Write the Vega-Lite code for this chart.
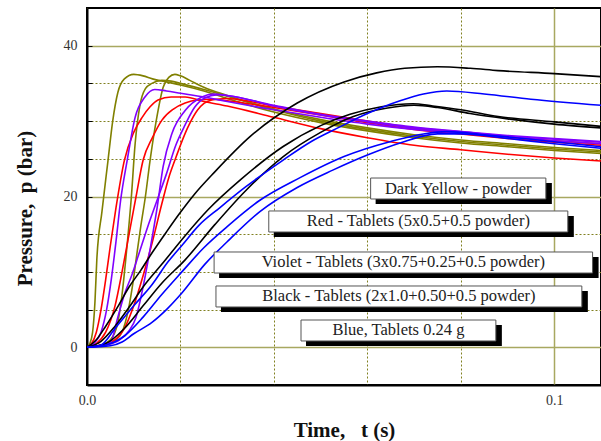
{
"$schema":"https://vega.github.io/schema/vega-lite/v6.json",
"width":514,"height":377,
"autosize":{"type":"none"},
"padding":{"left":87,"top":8,"right":0,"bottom":56},
"background":"white",
"config":{"view":{"stroke":"black","strokeWidth":2},"font":"Liberation Serif"},
"datasets":{
"curves":[
{"run":"Y1","set":"Dark Yellow","t":0,"p":0},{"run":"Y1","set":"Dark Yellow","t":0.0006,"p":0.5},{"run":"Y1","set":"Dark Yellow","t":0.0012,"p":2},{"run":"Y1","set":"Dark Yellow","t":0.0017,"p":6},{"run":"Y1","set":"Dark Yellow","t":0.0021,"p":11.6},{"run":"Y1","set":"Dark Yellow","t":0.0032,"p":18},{"run":"Y1","set":"Dark Yellow","t":0.0045,"p":24.8},{"run":"Y1","set":"Dark Yellow","t":0.0055,"p":30},{"run":"Y1","set":"Dark Yellow","t":0.0066,"p":33.8},{"run":"Y1","set":"Dark Yellow","t":0.008,"p":35.6},{"run":"Y1","set":"Dark Yellow","t":0.010,"p":36.2},{"run":"Y1","set":"Dark Yellow","t":0.012,"p":36},{"run":"Y1","set":"Dark Yellow","t":0.014,"p":35.6},{"run":"Y1","set":"Dark Yellow","t":0.017,"p":35.2},{"run":"Y1","set":"Dark Yellow","t":0.020,"p":34.8},{"run":"Y1","set":"Dark Yellow","t":0.025,"p":34},{"run":"Y1","set":"Dark Yellow","t":0.030,"p":33},{"run":"Y1","set":"Dark Yellow","t":0.040,"p":31.2},{"run":"Y1","set":"Dark Yellow","t":0.050,"p":29.8},{"run":"Y1","set":"Dark Yellow","t":0.060,"p":28.7},{"run":"Y1","set":"Dark Yellow","t":0.070,"p":27.8},{"run":"Y1","set":"Dark Yellow","t":0.080,"p":27.1},{"run":"Y1","set":"Dark Yellow","t":0.090,"p":26.6},{"run":"Y1","set":"Dark Yellow","t":0.100,"p":26.1},{"run":"Y1","set":"Dark Yellow","t":0.110,"p":25.7},
{"run":"Y2","set":"Dark Yellow","t":0,"p":0},{"run":"Y2","set":"Dark Yellow","t":0.003,"p":0.3},{"run":"Y2","set":"Dark Yellow","t":0.005,"p":1},{"run":"Y2","set":"Dark Yellow","t":0.0065,"p":3},{"run":"Y2","set":"Dark Yellow","t":0.0075,"p":7},{"run":"Y2","set":"Dark Yellow","t":0.0085,"p":13},{"run":"Y2","set":"Dark Yellow","t":0.0095,"p":20},{"run":"Y2","set":"Dark Yellow","t":0.0103,"p":27},{"run":"Y2","set":"Dark Yellow","t":0.0113,"p":32},{"run":"Y2","set":"Dark Yellow","t":0.0125,"p":34.3},{"run":"Y2","set":"Dark Yellow","t":0.0139,"p":35},{"run":"Y2","set":"Dark Yellow","t":0.016,"p":35.4},{"run":"Y2","set":"Dark Yellow","t":0.018,"p":35.3},{"run":"Y2","set":"Dark Yellow","t":0.020,"p":35},{"run":"Y2","set":"Dark Yellow","t":0.025,"p":34.2},{"run":"Y2","set":"Dark Yellow","t":0.030,"p":33.3},{"run":"Y2","set":"Dark Yellow","t":0.040,"p":31.5},{"run":"Y2","set":"Dark Yellow","t":0.050,"p":30},{"run":"Y2","set":"Dark Yellow","t":0.060,"p":28.9},{"run":"Y2","set":"Dark Yellow","t":0.070,"p":28},{"run":"Y2","set":"Dark Yellow","t":0.080,"p":27.3},{"run":"Y2","set":"Dark Yellow","t":0.090,"p":26.8},{"run":"Y2","set":"Dark Yellow","t":0.100,"p":26.3},{"run":"Y2","set":"Dark Yellow","t":0.110,"p":25.9},
{"run":"Y3","set":"Dark Yellow","t":0,"p":0},{"run":"Y3","set":"Dark Yellow","t":0.004,"p":0.3},{"run":"Y3","set":"Dark Yellow","t":0.007,"p":1.5},{"run":"Y3","set":"Dark Yellow","t":0.0085,"p":4},{"run":"Y3","set":"Dark Yellow","t":0.0097,"p":8},{"run":"Y3","set":"Dark Yellow","t":0.0105,"p":11.6},{"run":"Y3","set":"Dark Yellow","t":0.0115,"p":16},{"run":"Y3","set":"Dark Yellow","t":0.0125,"p":20},{"run":"Y3","set":"Dark Yellow","t":0.0135,"p":24.8},{"run":"Y3","set":"Dark Yellow","t":0.0148,"p":30},{"run":"Y3","set":"Dark Yellow","t":0.0163,"p":34.5},{"run":"Y3","set":"Dark Yellow","t":0.0175,"p":35.8},{"run":"Y3","set":"Dark Yellow","t":0.0188,"p":36.2},{"run":"Y3","set":"Dark Yellow","t":0.020,"p":36},{"run":"Y3","set":"Dark Yellow","t":0.022,"p":35.4},{"run":"Y3","set":"Dark Yellow","t":0.025,"p":34.5},{"run":"Y3","set":"Dark Yellow","t":0.030,"p":33.4},{"run":"Y3","set":"Dark Yellow","t":0.040,"p":31.6},{"run":"Y3","set":"Dark Yellow","t":0.050,"p":30.2},{"run":"Y3","set":"Dark Yellow","t":0.060,"p":29.1},{"run":"Y3","set":"Dark Yellow","t":0.070,"p":28.2},{"run":"Y3","set":"Dark Yellow","t":0.080,"p":27.5},{"run":"Y3","set":"Dark Yellow","t":0.090,"p":27},{"run":"Y3","set":"Dark Yellow","t":0.100,"p":26.5},{"run":"Y3","set":"Dark Yellow","t":0.110,"p":26.1},
{"run":"R1","set":"Red","t":0,"p":0},{"run":"R1","set":"Red","t":0.001,"p":0.5},{"run":"R1","set":"Red","t":0.002,"p":2},{"run":"R1","set":"Red","t":0.003,"p":5},{"run":"R1","set":"Red","t":0.004,"p":9},{"run":"R1","set":"Red","t":0.005,"p":13.5},{"run":"R1","set":"Red","t":0.0062,"p":18.5},{"run":"R1","set":"Red","t":0.008,"p":24.8},{"run":"R1","set":"Red","t":0.010,"p":28.5},{"run":"R1","set":"Red","t":0.0118,"p":30.5},{"run":"R1","set":"Red","t":0.0135,"p":31.9},{"run":"R1","set":"Red","t":0.0152,"p":32.8},{"run":"R1","set":"Red","t":0.018,"p":33.2},{"run":"R1","set":"Red","t":0.021,"p":33.2},{"run":"R1","set":"Red","t":0.025,"p":32.6},{"run":"R1","set":"Red","t":0.030,"p":32},{"run":"R1","set":"Red","t":0.040,"p":30.5},{"run":"R1","set":"Red","t":0.050,"p":29},{"run":"R1","set":"Red","t":0.060,"p":27.8},{"run":"R1","set":"Red","t":0.070,"p":26.8},{"run":"R1","set":"Red","t":0.080,"p":26.2},{"run":"R1","set":"Red","t":0.090,"p":25.6},{"run":"R1","set":"Red","t":0.100,"p":25.1},{"run":"R1","set":"Red","t":0.110,"p":24.7},
{"run":"R2","set":"Red","t":0,"p":0},{"run":"R2","set":"Red","t":0.002,"p":0.5},{"run":"R2","set":"Red","t":0.004,"p":2},{"run":"R2","set":"Red","t":0.006,"p":5.5},{"run":"R2","set":"Red","t":0.0075,"p":10},{"run":"R2","set":"Red","t":0.009,"p":15},{"run":"R2","set":"Red","t":0.0105,"p":20},{"run":"R2","set":"Red","t":0.012,"p":24.8},{"run":"R2","set":"Red","t":0.014,"p":27.8},{"run":"R2","set":"Red","t":0.016,"p":30.1},{"run":"R2","set":"Red","t":0.0185,"p":31.6},{"run":"R2","set":"Red","t":0.021,"p":32.4},{"run":"R2","set":"Red","t":0.0237,"p":32.8},{"run":"R2","set":"Red","t":0.027,"p":32.9},{"run":"R2","set":"Red","t":0.030,"p":32.7},{"run":"R2","set":"Red","t":0.040,"p":31.8},{"run":"R2","set":"Red","t":0.050,"p":30.8},{"run":"R2","set":"Red","t":0.060,"p":29.8},{"run":"R2","set":"Red","t":0.070,"p":28.9},{"run":"R2","set":"Red","t":0.080,"p":28.3},{"run":"R2","set":"Red","t":0.090,"p":27.7},{"run":"R2","set":"Red","t":0.100,"p":27.2},{"run":"R2","set":"Red","t":0.110,"p":26.8},
{"run":"R3","set":"Red","t":0,"p":0},{"run":"R3","set":"Red","t":0.003,"p":0.3},{"run":"R3","set":"Red","t":0.006,"p":1},{"run":"R3","set":"Red","t":0.008,"p":2.5},{"run":"R3","set":"Red","t":0.010,"p":5.5},{"run":"R3","set":"Red","t":0.012,"p":9.5},{"run":"R3","set":"Red","t":0.014,"p":14},{"run":"R3","set":"Red","t":0.016,"p":19},{"run":"R3","set":"Red","t":0.0175,"p":22.5},{"run":"R3","set":"Red","t":0.0188,"p":24.8},{"run":"R3","set":"Red","t":0.0216,"p":29.2},{"run":"R3","set":"Red","t":0.0237,"p":31.5},{"run":"R3","set":"Red","t":0.0267,"p":32.8},{"run":"R3","set":"Red","t":0.030,"p":33},{"run":"R3","set":"Red","t":0.035,"p":32.6},{"run":"R3","set":"Red","t":0.040,"p":32},{"run":"R3","set":"Red","t":0.050,"p":31},{"run":"R3","set":"Red","t":0.060,"p":30},{"run":"R3","set":"Red","t":0.070,"p":29.1},{"run":"R3","set":"Red","t":0.080,"p":28.5},{"run":"R3","set":"Red","t":0.090,"p":27.9},{"run":"R3","set":"Red","t":0.100,"p":27.4},{"run":"R3","set":"Red","t":0.110,"p":27},
{"run":"V1","set":"Violet","t":0,"p":0},{"run":"V1","set":"Violet","t":0.0015,"p":0.5},{"run":"V1","set":"Violet","t":0.003,"p":2},{"run":"V1","set":"Violet","t":0.0042,"p":5},{"run":"V1","set":"Violet","t":0.0052,"p":9},{"run":"V1","set":"Violet","t":0.0062,"p":14},{"run":"V1","set":"Violet","t":0.0072,"p":19.5},{"run":"V1","set":"Violet","t":0.0086,"p":24.8},{"run":"V1","set":"Violet","t":0.0103,"p":30.5},{"run":"V1","set":"Violet","t":0.0124,"p":33.2},{"run":"V1","set":"Violet","t":0.0145,"p":34.2},{"run":"V1","set":"Violet","t":0.017,"p":34},{"run":"V1","set":"Violet","t":0.020,"p":33.7},{"run":"V1","set":"Violet","t":0.025,"p":33.2},{"run":"V1","set":"Violet","t":0.030,"p":32.6},{"run":"V1","set":"Violet","t":0.040,"p":31.5},{"run":"V1","set":"Violet","t":0.050,"p":30.5},{"run":"V1","set":"Violet","t":0.060,"p":29.6},{"run":"V1","set":"Violet","t":0.070,"p":28.9},{"run":"V1","set":"Violet","t":0.080,"p":28.4},{"run":"V1","set":"Violet","t":0.090,"p":27.9},{"run":"V1","set":"Violet","t":0.100,"p":27.4},{"run":"V1","set":"Violet","t":0.110,"p":27},
{"run":"V2","set":"Violet","t":0,"p":0},{"run":"V2","set":"Violet","t":0.003,"p":0.2},{"run":"V2","set":"Violet","t":0.005,"p":0.6},{"run":"V2","set":"Violet","t":0.0066,"p":4},{"run":"V2","set":"Violet","t":0.008,"p":7},{"run":"V2","set":"Violet","t":0.0096,"p":9.6},{"run":"V2","set":"Violet","t":0.0109,"p":12},{"run":"V2","set":"Violet","t":0.013,"p":16},{"run":"V2","set":"Violet","t":0.015,"p":19.5},{"run":"V2","set":"Violet","t":0.017,"p":23},{"run":"V2","set":"Violet","t":0.019,"p":26.8},{"run":"V2","set":"Violet","t":0.021,"p":29.5},{"run":"V2","set":"Violet","t":0.023,"p":31.8},{"run":"V2","set":"Violet","t":0.025,"p":33},{"run":"V2","set":"Violet","t":0.028,"p":33.5},{"run":"V2","set":"Violet","t":0.032,"p":33.2},{"run":"V2","set":"Violet","t":0.040,"p":32},{"run":"V2","set":"Violet","t":0.050,"p":30.8},{"run":"V2","set":"Violet","t":0.060,"p":29.9},{"run":"V2","set":"Violet","t":0.070,"p":29.1},{"run":"V2","set":"Violet","t":0.080,"p":28.6},{"run":"V2","set":"Violet","t":0.090,"p":28},{"run":"V2","set":"Violet","t":0.100,"p":27.6},{"run":"V2","set":"Violet","t":0.110,"p":27.2},
{"run":"V3","set":"Violet","t":0,"p":0},{"run":"V3","set":"Violet","t":0.004,"p":0.3},{"run":"V3","set":"Violet","t":0.007,"p":1},{"run":"V3","set":"Violet","t":0.009,"p":2.2},{"run":"V3","set":"Violet","t":0.0105,"p":4},{"run":"V3","set":"Violet","t":0.012,"p":8},{"run":"V3","set":"Violet","t":0.0135,"p":13},{"run":"V3","set":"Violet","t":0.015,"p":18.5},{"run":"V3","set":"Violet","t":0.0163,"p":24},{"run":"V3","set":"Violet","t":0.0182,"p":28.4},{"run":"V3","set":"Violet","t":0.021,"p":31.4},{"run":"V3","set":"Violet","t":0.0246,"p":33.2},{"run":"V3","set":"Violet","t":0.027,"p":33.6},{"run":"V3","set":"Violet","t":0.030,"p":33.4},{"run":"V3","set":"Violet","t":0.040,"p":32.1},{"run":"V3","set":"Violet","t":0.050,"p":30.9},{"run":"V3","set":"Violet","t":0.060,"p":30},{"run":"V3","set":"Violet","t":0.070,"p":29.2},{"run":"V3","set":"Violet","t":0.080,"p":28.6},{"run":"V3","set":"Violet","t":0.090,"p":28.1},{"run":"V3","set":"Violet","t":0.100,"p":27.7},{"run":"V3","set":"Violet","t":0.110,"p":27.3},
{"run":"K1","set":"Black","t":0,"p":0},{"run":"K1","set":"Black","t":0.002,"p":1},{"run":"K1","set":"Black","t":0.004,"p":2.8},{"run":"K1","set":"Black","t":0.0066,"p":5.4},{"run":"K1","set":"Black","t":0.009,"p":8},{"run":"K1","set":"Black","t":0.0115,"p":10.2},{"run":"K1","set":"Black","t":0.014,"p":12.6},{"run":"K1","set":"Black","t":0.017,"p":15.3},{"run":"K1","set":"Black","t":0.020,"p":17.9},{"run":"K1","set":"Black","t":0.023,"p":20.3},{"run":"K1","set":"Black","t":0.0274,"p":23.3},{"run":"K1","set":"Black","t":0.035,"p":28},{"run":"K1","set":"Black","t":0.045,"p":32.4},{"run":"K1","set":"Black","t":0.055,"p":35.2},{"run":"K1","set":"Black","t":0.062,"p":36.4},{"run":"K1","set":"Black","t":0.068,"p":37},{"run":"K1","set":"Black","t":0.075,"p":37.2},{"run":"K1","set":"Black","t":0.082,"p":37},{"run":"K1","set":"Black","t":0.088,"p":36.7},{"run":"K1","set":"Black","t":0.100,"p":36.3},{"run":"K1","set":"Black","t":0.110,"p":35.9},
{"run":"K2","set":"Black","t":0,"p":0},{"run":"K2","set":"Black","t":0.003,"p":0.8},{"run":"K2","set":"Black","t":0.006,"p":2.8},{"run":"K2","set":"Black","t":0.009,"p":5.3},{"run":"K2","set":"Black","t":0.012,"p":8},{"run":"K2","set":"Black","t":0.016,"p":11},{"run":"K2","set":"Black","t":0.021,"p":14.8},{"run":"K2","set":"Black","t":0.026,"p":18.3},{"run":"K2","set":"Black","t":0.033,"p":22.3},{"run":"K2","set":"Black","t":0.0419,"p":26.6},{"run":"K2","set":"Black","t":0.050,"p":29.4},{"run":"K2","set":"Black","t":0.0563,"p":30.9},{"run":"K2","set":"Black","t":0.063,"p":31.9},{"run":"K2","set":"Black","t":0.0697,"p":32.3},{"run":"K2","set":"Black","t":0.074,"p":32},{"run":"K2","set":"Black","t":0.080,"p":31.5},{"run":"K2","set":"Black","t":0.088,"p":30.6},{"run":"K2","set":"Black","t":0.100,"p":29.9},{"run":"K2","set":"Black","t":0.110,"p":29.3},
{"run":"K3","set":"Black","t":0,"p":0},{"run":"K3","set":"Black","t":0.004,"p":0.5},{"run":"K3","set":"Black","t":0.008,"p":2.5},{"run":"K3","set":"Black","t":0.012,"p":5.5},{"run":"K3","set":"Black","t":0.016,"p":8.5},{"run":"K3","set":"Black","t":0.021,"p":11.6},{"run":"K3","set":"Black","t":0.0274,"p":16.3},{"run":"K3","set":"Black","t":0.034,"p":20.8},{"run":"K3","set":"Black","t":0.042,"p":25.3},{"run":"K3","set":"Black","t":0.050,"p":28.5},{"run":"K3","set":"Black","t":0.057,"p":30.6},{"run":"K3","set":"Black","t":0.064,"p":31.7},{"run":"K3","set":"Black","t":0.070,"p":32.1},{"run":"K3","set":"Black","t":0.075,"p":31.8},{"run":"K3","set":"Black","t":0.082,"p":31},{"run":"K3","set":"Black","t":0.090,"p":30.3},{"run":"K3","set":"Black","t":0.100,"p":29.6},{"run":"K3","set":"Black","t":0.110,"p":29.1},
{"run":"B1","set":"Blue","t":0,"p":0},{"run":"B1","set":"Blue","t":0.003,"p":0.3},{"run":"B1","set":"Blue","t":0.006,"p":2.5},{"run":"B1","set":"Blue","t":0.010,"p":5.5},{"run":"B1","set":"Blue","t":0.0139,"p":8.3},{"run":"B1","set":"Blue","t":0.0173,"p":11.3},{"run":"B1","set":"Blue","t":0.0203,"p":13.5},{"run":"B1","set":"Blue","t":0.024,"p":16.2},{"run":"B1","set":"Blue","t":0.0284,"p":18.5},{"run":"B1","set":"Blue","t":0.034,"p":21.3},{"run":"B1","set":"Blue","t":0.0419,"p":24.8},{"run":"B1","set":"Blue","t":0.048,"p":27.3},{"run":"B1","set":"Blue","t":0.054,"p":29.2},{"run":"B1","set":"Blue","t":0.060,"p":31},{"run":"B1","set":"Blue","t":0.067,"p":32.7},{"run":"B1","set":"Blue","t":0.072,"p":33.6},{"run":"B1","set":"Blue","t":0.077,"p":34},{"run":"B1","set":"Blue","t":0.085,"p":33.6},{"run":"B1","set":"Blue","t":0.095,"p":32.9},{"run":"B1","set":"Blue","t":0.110,"p":32.1},
{"run":"B2","set":"Blue","t":0,"p":0},{"run":"B2","set":"Blue","t":0.004,"p":0.3},{"run":"B2","set":"Blue","t":0.008,"p":1.5},{"run":"B2","set":"Blue","t":0.012,"p":4},{"run":"B2","set":"Blue","t":0.016,"p":7},{"run":"B2","set":"Blue","t":0.0203,"p":10},{"run":"B2","set":"Blue","t":0.025,"p":13.2},{"run":"B2","set":"Blue","t":0.030,"p":16},{"run":"B2","set":"Blue","t":0.037,"p":19.5},{"run":"B2","set":"Blue","t":0.0456,"p":22.5},{"run":"B2","set":"Blue","t":0.055,"p":25.3},{"run":"B2","set":"Blue","t":0.065,"p":27.3},{"run":"B2","set":"Blue","t":0.072,"p":28.3},{"run":"B2","set":"Blue","t":0.077,"p":28.6},{"run":"B2","set":"Blue","t":0.085,"p":28.2},{"run":"B2","set":"Blue","t":0.095,"p":27.6},{"run":"B2","set":"Blue","t":0.110,"p":26.6},
{"run":"B3","set":"Blue","t":0,"p":0},{"run":"B3","set":"Blue","t":0.005,"p":0.2},{"run":"B3","set":"Blue","t":0.0075,"p":0.7},{"run":"B3","set":"Blue","t":0.010,"p":1.8},{"run":"B3","set":"Blue","t":0.0139,"p":3.3},{"run":"B3","set":"Blue","t":0.017,"p":5},{"run":"B3","set":"Blue","t":0.0203,"p":7.2},{"run":"B3","set":"Blue","t":0.0252,"p":11},{"run":"B3","set":"Blue","t":0.030,"p":14},{"run":"B3","set":"Blue","t":0.037,"p":18},{"run":"B3","set":"Blue","t":0.045,"p":21.2},{"run":"B3","set":"Blue","t":0.0526,"p":23.5},{"run":"B3","set":"Blue","t":0.060,"p":25.5},{"run":"B3","set":"Blue","t":0.067,"p":27.1},{"run":"B3","set":"Blue","t":0.075,"p":28.3},{"run":"B3","set":"Blue","t":0.080,"p":28.3},{"run":"B3","set":"Blue","t":0.090,"p":27.7},{"run":"B3","set":"Blue","t":0.100,"p":27},{"run":"B3","set":"Blue","t":0.110,"p":26.4}
],
"labels":[
{"label":"Dark Yellow - powder","x1":0.0607,"x2":0.0982,"y1":22.45,"y2":19.67,"xm":0.07945,"ym":21.06},
{"label":"Red - Tablets (5x0.5+0.5 powder)","x1":0.0389,"x2":0.1029,"y1":18.08,"y2":15.29,"xm":0.0709,"ym":16.69},
{"label":"Violet - Tablets (3x0.75+0.25+0.5 powder)","x1":0.0272,"x2":0.1082,"y1":12.64,"y2":9.85,"xm":0.0677,"ym":11.25},
{"label":"Black - Tablets (2x1.0+0.50+0.5 powder)","x1":0.0276,"x2":0.1059,"y1":8.13,"y2":5.35,"xm":0.06675,"ym":6.74},
{"label":"Blue, Tablets 0.24 g","x1":0.0458,"x2":0.0875,"y1":3.62,"y2":0.84,"xm":0.06665,"ym":2.23}
]
},
"layer":[
{"data":{"name":"curves"},
 "mark":{"type":"line","strokeWidth":1.6,"interpolate":"monotone","clip":true},
 "encoding":{
  "x":{"field":"t","type":"quantitative","scale":{"domain":[0,0.11],"nice":false,"zero":false},
   "axis":{"values":[0,0.02,0.04,0.06,0.08,0.1],"title":"Time,\u00a0\u00a0 t (s)","titleFont":"Liberation Serif","titleFontSize":21,"titleFontWeight":"bold","titleColor":"#111","titlePadding":12,
     "labelExpr":"datum.value == 0 ? '0.0' : (abs(datum.value - 0.1) < 1e-9 ? '0.1' : '')","labelFont":"Liberation Serif","labelFontSize":14,"labelColor":"#333","labelPadding":8,"labelFlush":false,
     "ticks":false,"domainColor":"black","domainWidth":2,
     "grid":true,"gridColor":{"condition":{"test":"abs(datum.value - 0.1) < 1e-9","value":"#a8a860"},"value":"#808020"},"gridDash":{"condition":{"test":"abs(datum.value - 0.1) < 1e-9","value":[]},"value":[2,2]},"gridWidth":{"condition":{"test":"abs(datum.value - 0.1) < 1e-9","value":1.5},"value":1}}},
  "y":{"field":"p","type":"quantitative","scale":{"domain":[-5,45],"nice":false,"zero":false},
   "axis":{"values":[0,5,10,15,20,25,30,35,40],"title":"Pressure,\u00a0 p (bar)","titleFont":"Liberation Serif","titleFontSize":21,"titleFontWeight":"bold","titleColor":"#111","titleX":-62,"titleY":200,"titleBaseline":"middle","titleAlign":"center","titleAngle":-90,
     "labelExpr":"datum.value % 20 == 0 ? datum.label : ''","labelFont":"Liberation Serif","labelFontSize":14,"labelColor":"#333","labelPadding":15,
     "ticks":true,"tickSize":-5,"tickColor":"black","tickWidth":1,"domainColor":"black","domainWidth":2,
     "grid":true,"gridColor":{"condition":{"test":"datum.value % 20 == 0","value":"#a8a860"},"value":"#808020"},"gridDash":{"condition":{"test":"datum.value % 20 == 0","value":[]},"value":[2,2]},"gridWidth":{"condition":{"test":"datum.value % 20 == 0","value":1.5},"value":1}}},
  "color":{"field":"set","type":"nominal","scale":{"domain":["Dark Yellow","Red","Violet","Black","Blue"],"range":["#808000","#ff0000","#8000ff","#000000","#0000ff"]},"legend":null},
  "detail":{"field":"run"}
 }},
{"data":{"name":"labels"},
 "mark":{"type":"rect","fill":"black","xOffset":5,"x2Offset":6,"yOffset":5,"y2Offset":5},
 "encoding":{"x":{"field":"x1","type":"quantitative"},"x2":{"field":"x2"},"y":{"field":"y1","type":"quantitative"},"y2":{"field":"y2"}}},
{"data":{"name":"labels"},
 "mark":{"type":"rect","fill":"white","stroke":"#555","strokeWidth":1},
 "encoding":{"x":{"field":"x1","type":"quantitative"},"x2":{"field":"x2"},"y":{"field":"y1","type":"quantitative"},"y2":{"field":"y2"}}},
{"data":{"name":"labels"},
 "mark":{"type":"text","font":"Liberation Serif","fontSize":16.5,"color":"#222","align":"center","baseline":"middle"},
 "encoding":{"x":{"field":"xm","type":"quantitative"},"y":{"field":"ym","type":"quantitative"},"text":{"field":"label"}}}
]
}
